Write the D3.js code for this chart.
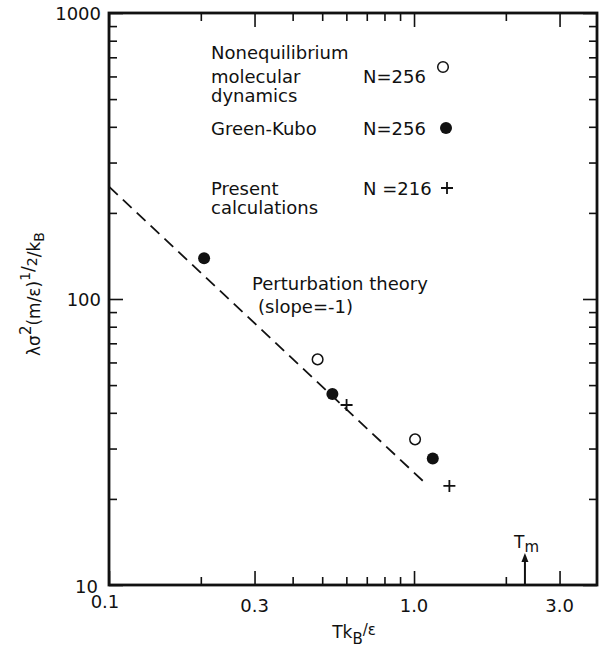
<!DOCTYPE html>
<html>
<head>
<meta charset="utf-8">
<script src="https://cdn.jsdelivr.net/npm/d3@7"></script>
<style>
  body { margin: 0; background: #fff; }
  text { font-family: "DejaVu Sans", sans-serif; fill: #111; }
</style>
</head>
<body>
<main></main>
<script>
let svgWidth  = 600;
let svgHeight = 649;

let plotLeft = 109, plotTop = 13, plotRight = 597, plotBottom = 585;

// data
const nemdX = [0.483, 1.008];
const nemdY = [61.5, 32.3];

const gkX = [0.205, 0.540, 1.152];
const gkY = [138.8, 46.5, 27.7];

const presentX = [0.601, 1.306];
const presentY = [42.6, 22.2];

const theoryX = [0.1, 1.07];
const theoryY = [247, 23.1];

const xMajor = [0.1, 0.3, 1.0, 3.0];
const xMajorLabels = ['0.1', '0.3', '1.0', '3.0'];
const xMinor = [0.2, 0.4, 0.5, 0.6, 0.7, 0.8, 0.9, 2.0];
const yMajor = [10, 100, 1000];
const yMajorLabels = ['10', '100', '1000'];
const yMinor = [20, 30, 40, 50, 60, 70, 80, 90, 200, 300, 400, 500, 600, 700, 800, 900];

const meltX = 2.31;

var x = d3.scaleLog().domain([0.1, 3.98]).range([plotLeft, plotRight]);
var y = d3.scaleLog().domain([10, 1000]).range([plotBottom, plotTop]);

var svg = d3.select('body main')
  .append('svg')
  .attr('width', svgWidth)
  .attr('height', svgHeight);

function tickGroup(axis, tx, ty) {
  var g = svg.append('g')
    .attr('transform', 'translate(' + tx + ',' + ty + ')')
    .call(axis);
  g.select('.domain').remove();
  g.selectAll('text').remove();
  g.selectAll('line').attr('stroke', '#111').attr('stroke-width', 1.6);
  return g;
}

// inward ticks on all four sides
tickGroup(d3.axisBottom(x).tickValues(xMajor).tickSize(-14), 0, plotBottom);
tickGroup(d3.axisBottom(x).tickValues(xMinor).tickSize(-8), 0, plotBottom);
tickGroup(d3.axisTop(x).tickValues(xMajor).tickSize(-14), 0, plotTop);
tickGroup(d3.axisTop(x).tickValues(xMinor).tickSize(-8), 0, plotTop);
tickGroup(d3.axisLeft(y).tickValues(yMajor).tickSize(-14), plotLeft, 0);
tickGroup(d3.axisLeft(y).tickValues(yMinor).tickSize(-8), plotLeft, 0);
tickGroup(d3.axisRight(y).tickValues(yMajor).tickSize(-14), plotRight, 0);
tickGroup(d3.axisRight(y).tickValues(yMinor).tickSize(-8), plotRight, 0);

// frame
svg.append('rect')
  .attr('x', plotLeft).attr('y', plotTop)
  .attr('width', plotRight - plotLeft).attr('height', plotBottom - plotTop)
  .attr('fill', 'none')
  .attr('stroke', '#111')
  .attr('stroke-width', 2.8);

// tick labels
svg.selectAll('.xlab')
  .data(xMajor.slice(1))
  .enter().append('text')
    .attr('x', function(d) { return x(d); })
    .attr('y', 612)
    .attr('text-anchor', 'middle')
    .attr('font-size', '18px')
    .text(function(d, i) { return xMajorLabels[i + 1]; });

svg.append('text')
  .attr('x', 105).attr('y', 608)
  .attr('text-anchor', 'middle')
  .attr('font-size', '18px')
  .text(xMajorLabels[0]);

svg.selectAll('.ylab')
  .data(yMajor.slice(1))
  .enter().append('text')
    .attr('x', 101)
    .attr('y', function(d) { return y(d) + 7; })
    .attr('text-anchor', 'end')
    .attr('font-size', '18px')
    .text(function(d, i) { return yMajorLabels[i + 1]; });

svg.append('text')
  .attr('x', 98).attr('y', 593)
  .attr('text-anchor', 'end')
  .attr('font-size', '18px')
  .text(yMajorLabels[0]);

// axis titles
var xt = svg.append('text')
  .attr('x', 354).attr('y', 638)
  .attr('text-anchor', 'middle')
  .attr('font-size', '17px');
xt.append('tspan').text('Tk');
xt.append('tspan').attr('dy', 6).attr('font-size', '15px').text('B');
xt.append('tspan').attr('dy', -9).attr('font-size', '15px').text('/ε');

var yt = svg.append('text')
  .attr('transform', 'translate(40,294) rotate(-90)')
  .attr('text-anchor', 'middle')
  .attr('font-size', '17px');
yt.append('tspan').text('λσ');
yt.append('tspan').attr('dy', -9).attr('font-size', '15px').text('2');
yt.append('tspan').attr('dy', 9).text('(m/ε)');
yt.append('tspan').attr('dy', -10).attr('font-size', '14px').text('1');
yt.append('tspan').attr('dy', 4).text('/');
yt.append('tspan').attr('dy', 3).attr('font-size', '14px').text('2');
yt.append('tspan').attr('dy', 3).text('/k');
yt.append('tspan').attr('dy', 4).attr('font-size', '14px').text('B');

// perturbation theory line
var line = d3.line()
  .x(function(d) { return x(d[0]); })
  .y(function(d) { return y(d[1]); });

svg.append('path')
  .datum(d3.zip(theoryX, theoryY))
  .attr('d', line)
  .attr('fill', 'none')
  .attr('stroke', '#111')
  .attr('stroke-width', 1.8)
  .attr('stroke-dasharray', '12,7');

// markers
function openCircle(cx, cy) {
  svg.append('circle').attr('cx', cx).attr('cy', cy).attr('r', 5.3)
    .attr('fill', '#fff').attr('stroke', '#111').attr('stroke-width', 1.5);
}
function filledCircle(cx, cy) {
  svg.append('circle').attr('cx', cx).attr('cy', cy).attr('r', 6)
    .attr('fill', '#111');
}
function plus(cx, cy) {
  svg.append('path')
    .attr('d', 'M' + (cx - 6) + ',' + cy + 'h12M' + cx + ',' + (cy - 6) + 'v12')
    .attr('stroke', '#111').attr('stroke-width', 1.8);
}

nemdX.forEach(function(d, i) { openCircle(x(d), y(nemdY[i])); });
gkX.forEach(function(d, i) { filledCircle(x(d), y(gkY[i])); });
presentX.forEach(function(d, i) { plus(x(d), y(presentY[i])); });

// legend
function legendText(tx, ty, s) {
  svg.append('text').attr('x', tx).attr('y', ty).attr('font-size', '18px').text(s);
}
legendText(211, 59, 'Nonequilibrium');
legendText(211, 83, 'molecular');
legendText(211, 102, 'dynamics');
legendText(363, 83, 'N=256');
openCircle(443, 67);

legendText(211, 135, 'Green-Kubo');
legendText(363, 135, 'N=256');
filledCircle(446, 128);

legendText(211, 195, 'Present');
legendText(211, 214, 'calculations');
legendText(363, 195, 'N =216');
plus(447, 188);

// theory annotation
legendText(252, 290, 'Perturbation theory');
legendText(258, 313, '(slope=-1)');

// melting temperature arrow
svg.append('line')
  .attr('x1', x(meltX)).attr('x2', x(meltX))
  .attr('y1', plotBottom).attr('y2', 560)
  .attr('stroke', '#111').attr('stroke-width', 2);
svg.append('path')
  .attr('d', 'M' + (x(meltX) - 3.5) + ',562L' + x(meltX) + ',553L' + (x(meltX) + 3.5) + ',562Z')
  .attr('fill', '#111');
var tm = svg.append('text')
  .attr('x', 514).attr('y', 548)
  .attr('font-size', '17px');
tm.append('tspan').text('T');
tm.append('tspan').attr('dy', 4).attr('font-size', '15px').text('m');
</script>
</body>
</html>
